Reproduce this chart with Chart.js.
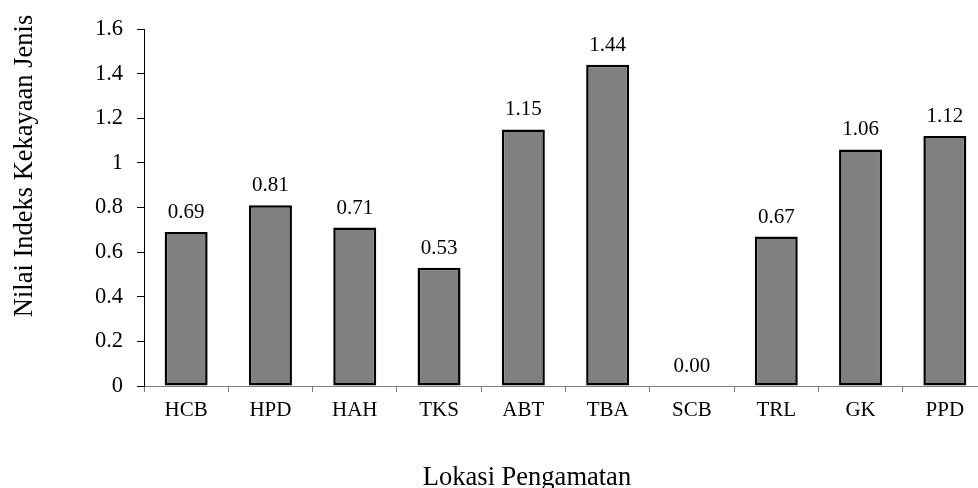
<!DOCTYPE html>
<html>
<head>
<meta charset="utf-8">
<script src="https://cdn.jsdelivr.net/npm/chart.js@4/dist/chart.umd.min.js"></script>
<style>
  html, body { margin: 0; padding: 0; background: #ffffff; overflow: hidden; }
  #wrap { width: 1000px; height: 488px; }
</style>
</head>
<body>
<div id="wrap"><canvas id="chart" width="1000" height="488"></canvas></div>
<script>
// Lokasi pengamatan dan nilai indeks kekayaan jenis
const lokasi = ['HCB', 'HPD', 'HAH', 'TKS', 'ABT', 'TBA', 'SCB', 'TRL', 'GK', 'PPD'];
const nilai = [0.69, 0.81, 0.71, 0.53, 1.15, 1.44, 0.00, 0.67, 1.06, 1.12];
const yMin = 0;
const yMax = 1.6;
const yStep = 0.2;
const judulY = 'Nilai Indeks Kekayaan Jenis';
const judulX = 'Lokasi Pengamatan';

const serif = '"Liberation Serif", "Times New Roman", serif';

// Angka di atas setiap batang
const labelNilai = {
  id: 'labelNilai',
  afterDatasetsDraw(chart) {
    const ctx = chart.ctx;
    const meta = chart.getDatasetMeta(0);
    const base = chart.scales.y.getPixelForValue(0);
    ctx.save();
    ctx.font = '21px ' + serif;
    ctx.fillStyle = '#000000';
    ctx.textAlign = 'center';
    ctx.textBaseline = 'alphabetic';
    meta.data.forEach((bar, i) => {
      const top = Math.min(bar.y, base);
      ctx.fillText(nilai[i].toFixed(2), bar.x, top - 14);
    });
    ctx.restore();
  }
};

// Judul sumbu
const judulSumbu = {
  id: 'judulSumbu',
  afterDraw(chart) {
    const ctx = chart.ctx;
    ctx.save();
    ctx.font = '26.5px ' + serif;
    ctx.fillStyle = '#000000';
    ctx.textAlign = 'center';
    ctx.textBaseline = 'alphabetic';
    ctx.fillText(judulX, 527, 485);
    ctx.translate(32, 166);
    ctx.rotate(-Math.PI / 2);
    ctx.fillText(judulY, 0, 0);
    ctx.restore();
  }
};

new Chart(document.getElementById('chart'), {
  type: 'bar',
  data: {
    labels: lokasi,
    datasets: [{
      data: nilai,
      backgroundColor: '#808080',
      borderColor: '#000000',
      borderWidth: (c) => (c.raw === 0 ? 0 : 2.5),
      borderSkipped: false,
      categoryPercentage: 1,
      barPercentage: 0.51
    }]
  },
  options: {
    responsive: false,
    animation: false,
    events: [],
    layout: { padding: { top: 29, right: 13, bottom: 0, left: 0 } },
    plugins: {
      legend: { display: false },
      tooltip: { enabled: false },
      title: { display: false }
    },
    scales: {
      x: {
        afterFit(scale) { scale.height = 102; },
        grid: {
          offset: true,
          drawOnChartArea: false,
          drawTicks: true,
          tickLength: 6,
          color: '#7f7f7f',
          lineWidth: 1
        },
        border: { display: true, color: '#7f7f7f', width: 1 },
        ticks: {
          color: '#000000',
          font: { family: serif, size: 21 },
          padding: 6,
          maxRotation: 0,
          autoSkip: false
        }
      },
      y: {
        min: yMin,
        max: yMax,
        afterFit(scale) { scale.width = 144; },
        grid: {
          drawOnChartArea: false,
          drawTicks: true,
          tickLength: 7,
          color: '#000000',
          lineWidth: 1
        },
        border: { display: true, color: '#000000', width: 1 },
        ticks: {
          stepSize: yStep,
          color: '#000000',
          font: { family: serif, size: 22.5 },
          padding: 14,
          callback: (v) => String(Number(Number(v).toFixed(1)))
        }
      }
    }
  },
  plugins: [labelNilai, judulSumbu]
});
</script>
</body>
</html>
